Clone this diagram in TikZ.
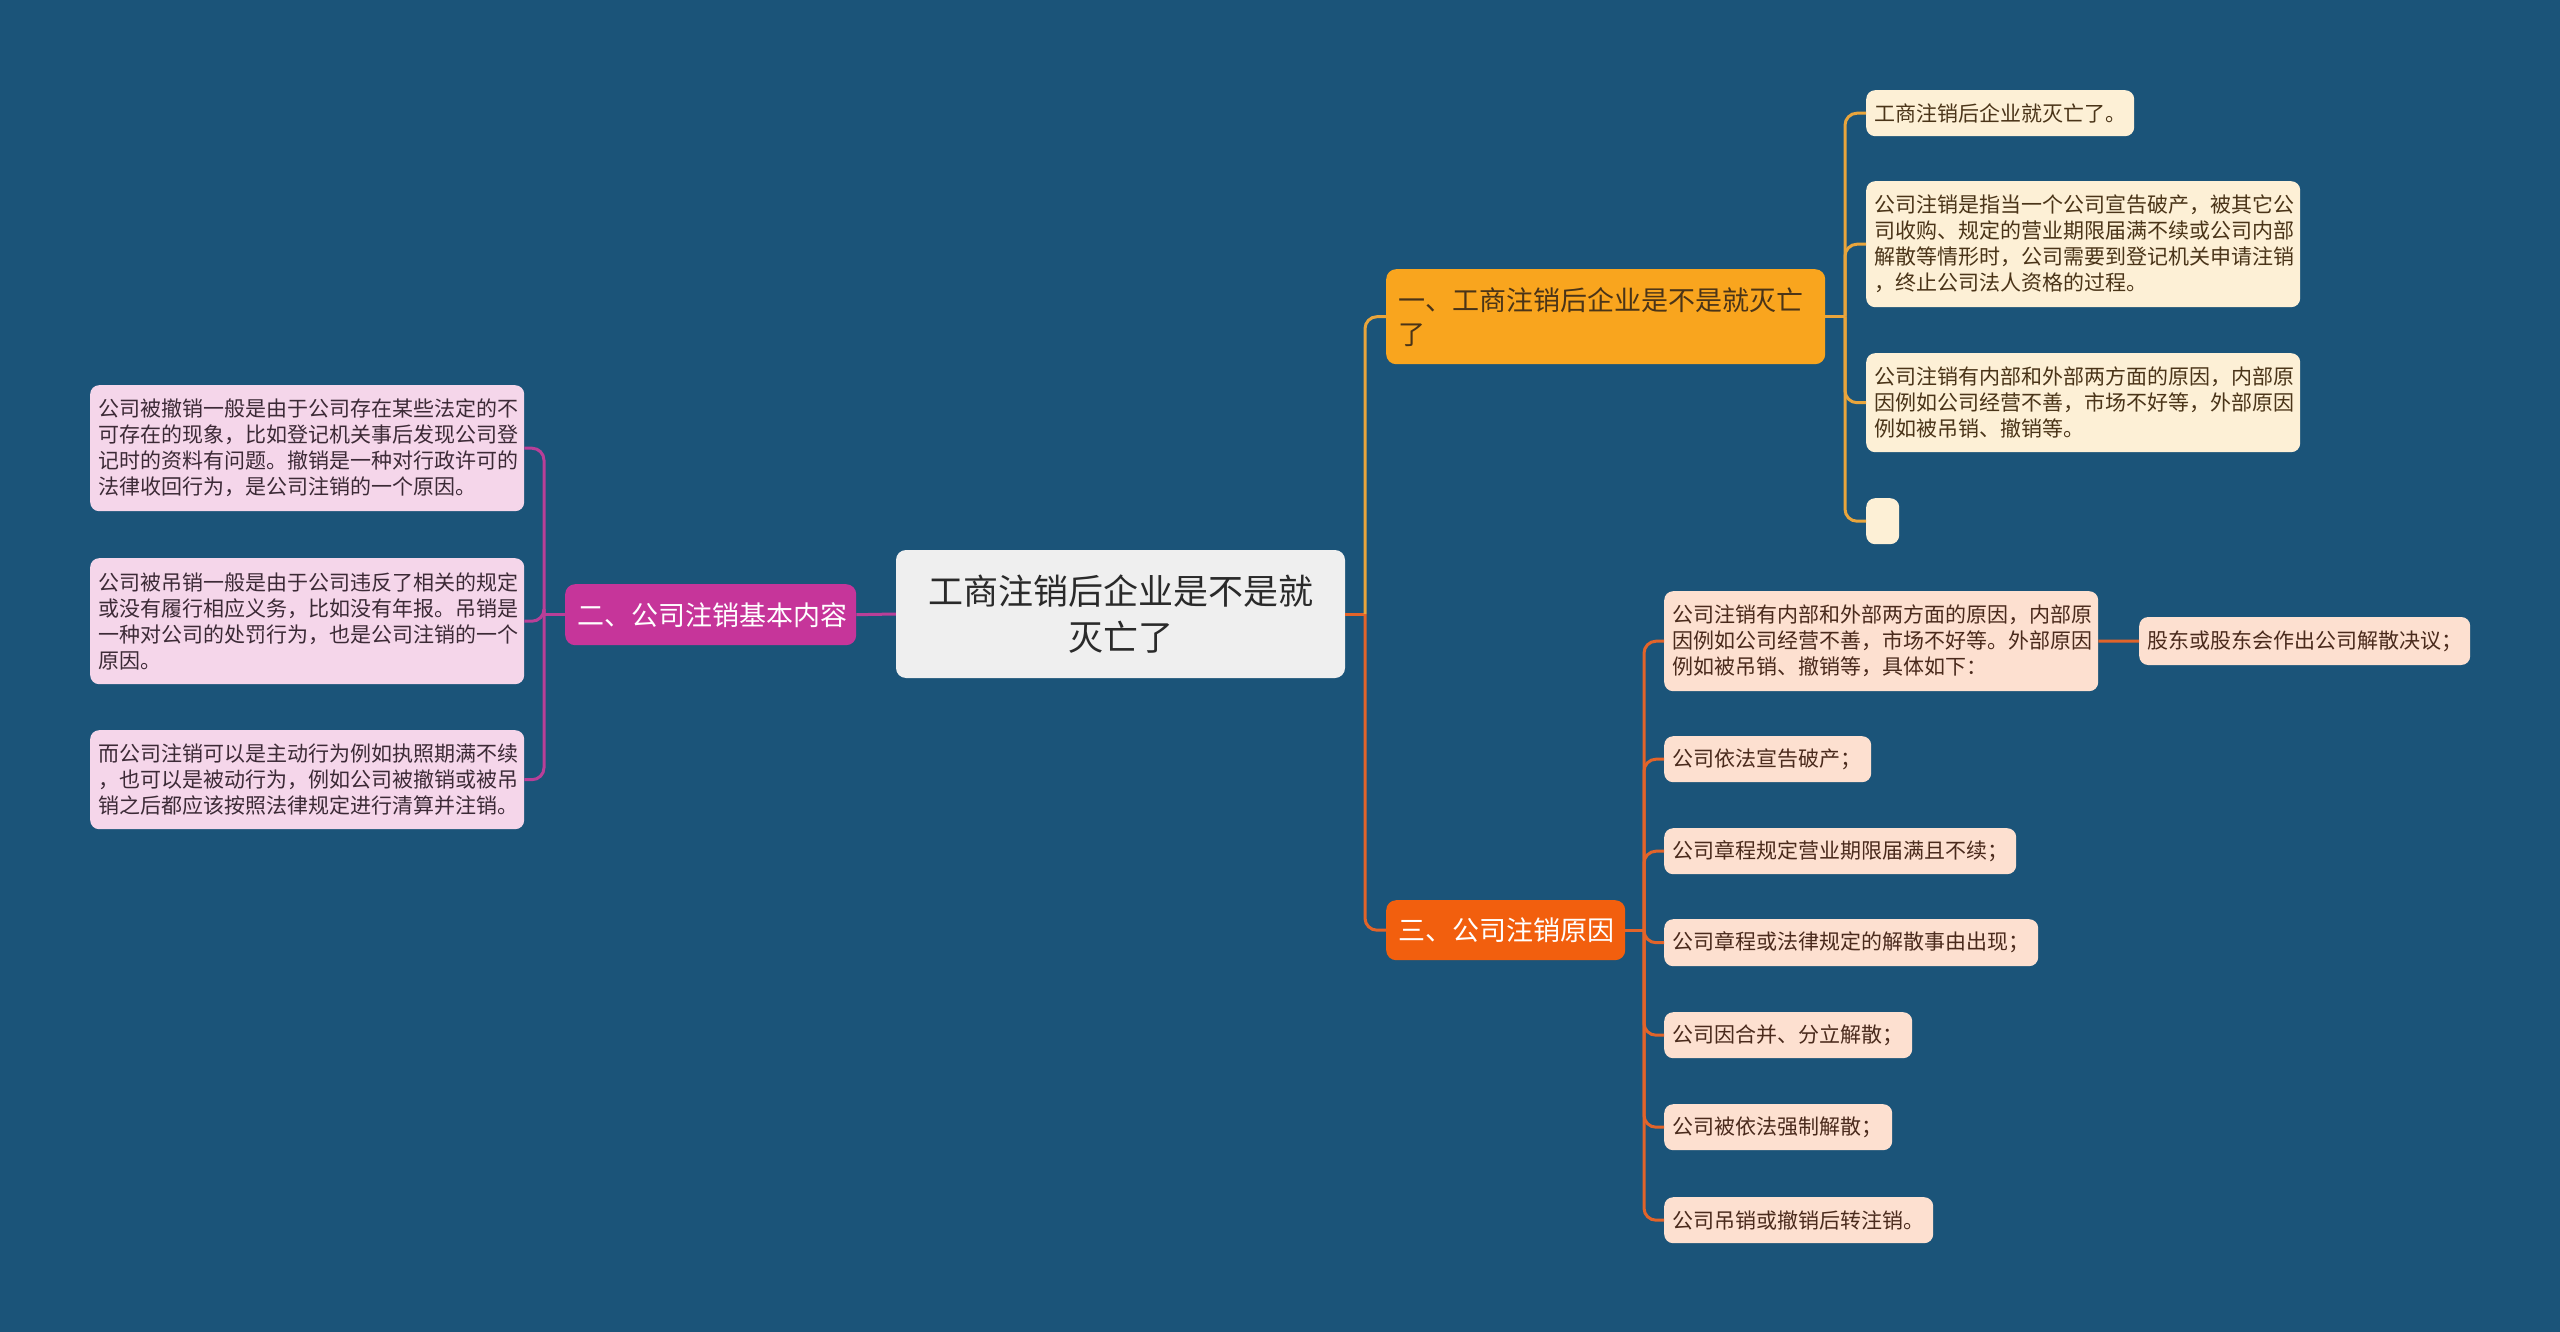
\documentclass[tikz,border=0pt]{standalone}
\usepackage{fontspec}
\setmainfont{Noto Sans CJK SC}
\definecolor{bg}{HTML}{1B5479}
\definecolor{rootc}{HTML}{EFEFEF}
\definecolor{roottxt}{HTML}{2A2A2A}
\definecolor{bAc}{HTML}{F9A51E}
\definecolor{bBc}{HTML}{C6359A}
\definecolor{bCc}{HTML}{F25F0E}
\definecolor{lAc}{HTML}{E9A53C}
\definecolor{lBc}{HTML}{B93F98}
\definecolor{lCc}{HTML}{E2642A}
\definecolor{cAc}{HTML}{FDF0D6}
\definecolor{cBc}{HTML}{F5D6EA}
\definecolor{cCc}{HTML}{FDE0D0}
\definecolor{txA}{HTML}{4A3418}
\definecolor{txB}{HTML}{3C2A36}
\definecolor{txC}{HTML}{4A2A1C}
\begin{document}
\begin{tikzpicture}[x=1pt,y=-1pt,
  rbox/.style={rounded corners=9pt, inner xsep=8pt, inner ysep=0pt, align=left, anchor=north west, font=\fontsize{21}{26}\selectfont},
  cA/.style={rbox, fill=cAc, text=txA},
  cB/.style={rbox, fill=cBc, text=txB},
  cC/.style={rbox, fill=cCc, text=txC},
  mainbox/.style={rounded corners=10pt, inner xsep=12pt, inner ysep=0pt, align=left, anchor=north west, font=\fontsize{27}{34}\selectfont},
  rootbox/.style={rounded corners=10pt, fill=rootc, text=roottxt, align=center, font=\fontsize{35}{46}\selectfont, inner sep=0pt},
  conn/.style={line width=3pt, rounded corners=12pt},
  connA/.style={conn, draw=lAc},
  connB/.style={conn, draw=lBc},
  connC/.style={conn, draw=lCc}]
\fill[bg] (0,0) rectangle (2560,1332);
\useasboundingbox (0,0) rectangle (2560,1332);

% trunk coordinates
\coordinate (t0) at (1365,0);
\coordinate (tA) at (1845,0);
\coordinate (tB) at (544,0);
\coordinate (tC) at (1644,0);

% root
\node[rootbox, minimum width=449pt, minimum height=128pt] (root) at (1120.5,614) {工商注销后企业是不是就\\灭亡了};

% main branches
\node[mainbox, fill=bAc, text=txA, text width=415pt, minimum height=95pt] (bA) at (1386,269) {一、工商注销后企业是不是就灭亡\\了};
\node[mainbox, fill=bBc, text=white, text width=267pt, minimum height=61pt] (bB) at (565,584) {二、公司注销基本内容};
\node[mainbox, fill=bCc, text=white, text width=215pt, minimum height=60pt] (bC) at (1386,900) {三、公司注销原因};

% branch A children
\node[cA, text width=252pt, minimum height=46pt] (a1) at (1866,90) {工商注销后企业就灭亡了。};
\node[cA, text width=418pt, minimum height=126pt] (a2) at (1866,181) {公司注销是指当一个公司宣告破产，被其它公\\司收购、规定的营业期限届满不续或公司内部\\解散等情形时，公司需要到登记机关申请注销\\，终止公司法人资格的过程。};
\node[cA, text width=418pt, minimum height=99pt] (a3) at (1866,353) {公司注销有内部和外部两方面的原因，内部原\\因例如公司经营不善，市场不好等，外部原因\\例如被吊销、撤销等。};
\node[cA, text width=17pt, minimum height=46pt] (a4) at (1866,498) {};

% branch B children
\node[cB, text width=418pt, minimum height=126pt] (d1) at (90,385) {公司被撤销一般是由于公司存在某些法定的不\\可存在的现象，比如登记机关事后发现公司登\\记时的资料有问题。撤销是一种对行政许可的\\法律收回行为，是公司注销的一个原因。};
\node[cB, text width=418pt, minimum height=126pt] (d2) at (90,558) {公司被吊销一般是由于公司违反了相关的规定\\或没有履行相应义务，比如没有年报。吊销是\\一种对公司的处罚行为，也是公司注销的一个\\原因。};
\node[cB, text width=418pt, minimum height=99pt] (d3) at (90,730) {而公司注销可以是主动行为例如执照期满不续\\，也可以是被动行为，例如公司被撤销或被吊\\销之后都应该按照法律规定进行清算并注销。};

% branch C children
\node[cC, text width=418pt, minimum height=100pt] (e1) at (1664,591) {公司注销有内部和外部两方面的原因，内部原\\因例如公司经营不善，市场不好等。外部原因\\例如被吊销、撤销等，具体如下：};
\node[cC, text width=315pt, minimum height=48pt, anchor=west] (e1a) at (2139,641) {股东或股东会作出公司解散决议；};
\node[cC, text width=191pt, minimum height=46pt] (e2) at (1664,736) {公司依法宣告破产；};
\node[cC, text width=336pt, minimum height=46pt] (e3) at (1664,828) {公司章程规定营业期限届满且不续；};
\node[cC, text width=358pt, minimum height=47pt] (e4) at (1664,919) {公司章程或法律规定的解散事由出现；};
\node[cC, text width=232pt, minimum height=46pt] (e5) at (1664,1012) {公司因合并、分立解散；};
\node[cC, text width=212pt, minimum height=46pt] (e6) at (1664,1104) {公司被依法强制解散；};
\node[cC, text width=253pt, minimum height=46pt] (e7) at (1664,1197) {公司吊销或撤销后转注销。};

% connectors root
\draw[connC] (root.east) -- (root.east -| t0);
\draw[connA] (root.east -| t0) |- (bA.west);
\draw[connC] (root.east -| t0) |- (bC.west);
\draw[connB] (root.west) -- (bB.east);

% branch A
\draw[connA] (bA.east) -- (bA.east -| tA);
\foreach \n in {a1,a2,a3,a4}
  \draw[connA] (bA.east -| tA) |- (\n.west);
% branch B
\draw[connB] (bB.west) -- (bB.west -| tB);
\foreach \n in {d1,d2,d3}
  \draw[connB] (bB.west -| tB) |- (\n.east);
% branch C
\draw[connC] (bC.east) -- (bC.east -| tC);
\foreach \n in {e1,e2,e3,e4,e5,e6,e7}
  \draw[connC] (bC.east -| tC) |- (\n.west);
\draw[connC] (e1.east) -- (e1a.west);
\end{tikzpicture}
\end{document}
